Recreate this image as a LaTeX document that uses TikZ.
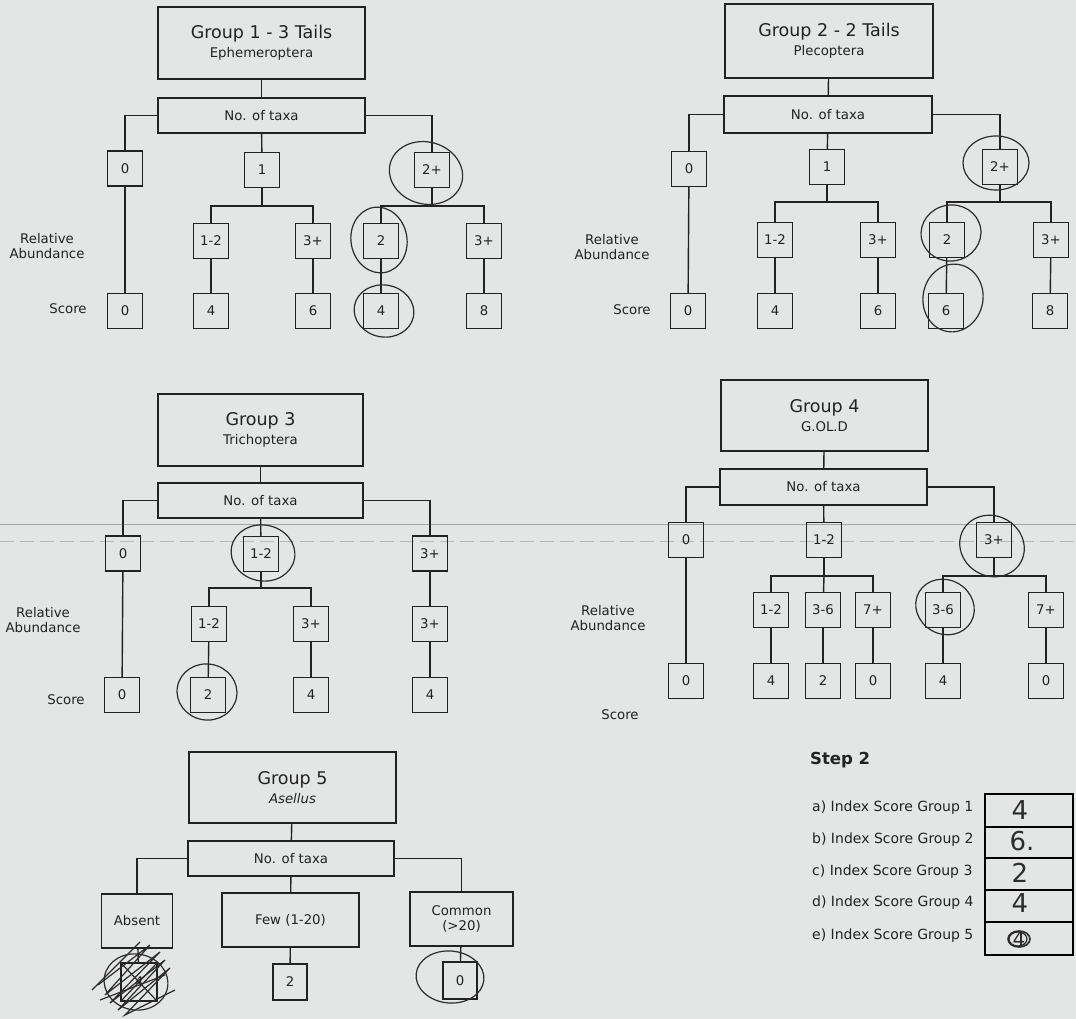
\documentclass[tikz,border=0pt]{standalone}
\usepackage{fontspec}
\setmainfont{DejaVu Sans}
\newcommand\smallfnt{\fontsize{13.3}{15.5}\selectfont}
\newcommand\titlefnt{\fontsize{17.5}{21}\selectfont}
\newcommand\stepfnt{\fontsize{14}{16}\selectfont}
\newcommand\handfnt{\fontsize{26}{26}\selectfont}
\definecolor{paper}{HTML}{E4E6E5}
\definecolor{ink}{HTML}{222222}
\definecolor{pencil}{HTML}{2C2C2C}
\begin{document}
\begin{tikzpicture}[x=1pt,y=-1pt,
  ln/.style={line width=1.4pt, draw=ink},
  bx/.style={draw=ink, line width=1.4pt, minimum width=35pt, minimum height=35pt, inner sep=0pt, text=ink, font=\smallfnt},
  ttl/.style={draw=ink, line width=1.4pt, minimum width=207pt, minimum height=72pt, inner sep=0pt, align=center, text=ink, font=\titlefnt},
  taxa/.style={draw=ink, line width=1.4pt, minimum width=207pt, minimum height=35pt, inner sep=0pt, text=ink, font=\smallfnt},
  lbl/.style={align=center, text=ink, font=\smallfnt, inner sep=0pt},
  pen/.style={draw=pencil, line width=1.2pt},
  cell/.style={draw=black, line width=2.6pt, minimum width=88pt, minimum height=30pt, inner sep=0pt},
  hand/.style={text=pencil, font=\handfnt, inner sep=0pt}
]
\useasboundingbox (0,0) rectangle (1076,1019);
\fill[paper] (0,0) rectangle (1076,1019);
% fold / print artefact lines
\draw[gray!70, line width=0.8pt] (0,524) -- (1076,524);
\draw[gray!55, line width=0.7pt, dash pattern=on 14pt off 6pt] (0,541) -- (1076,541);

% ================= Group 1 =================
\node[ttl] (t1) at (261.5,43) {Group 1 - 3 Tails\\[-2pt]{\smallfnt Ephemeroptera}};
\node[taxa] (x1) at (261.5,115.5) {No. of taxa};
\node[bx] (a0) at (125,168.5) {0};
\node[bx] (a1) at (262,170) {1};
\node[bx] (a2) at (432,170) {2+};
\node[bx] (b1) at (211,241) {1-2};
\node[bx] (b2) at (313,241) {3+};
\node[bx] (b3) at (381,241) {2};
\node[bx] (b4) at (484,241) {3+};
\node[bx] (s10) at (125,311) {0};
\node[bx] (s11) at (211,311) {4};
\node[bx] (s12) at (313,311) {6};
\node[bx] (s13) at (381,311) {4};
\node[bx] (s14) at (484,311) {8};
\coordinate (j11) at (262,206);
\coordinate (j12) at (432,206);
\draw[ln] (t1) -- (x1);
\draw[ln] (x1) -- (a1);
\draw[ln] (x1.west) -| (a0.north);
\draw[ln] (x1.east) -| (a2.north);
\draw[ln] (a0) -- (s10);
\draw[ln] (a1) -- (j11) -| (b1);
\draw[ln] (j11) -| (b2);
\draw[ln] (a2) -- (j12) -| (b3);
\draw[ln] (j12) -| (b4);
\draw[ln] (b1) -- (s11);
\draw[ln] (b2) -- (s12);
\draw[ln] (b3) -- (s13);
\draw[ln] (b4) -- (s14);
\node[lbl] (ra1) at (47,246) {Relative\\Abundance};
\node[lbl] (sc1) at (68,309) {Score};

% ================= Group 2 =================
\node[ttl, minimum width=208pt, minimum height=74pt] (t2) at (829,41) {Group 2 - 2 Tails\\[-2pt]{\smallfnt Plecoptera}};
\node[taxa, minimum width=208pt, minimum height=37pt] (x2) at (828,114.5) {No. of taxa};
\node[bx] (c0) at (689,169) {0};
\node[bx] (c1) at (827,167) {1};
\node[bx] (c2) at (1000,167) {2+};
\node[bx] (d1) at (775,240) {1-2};
\node[bx] (d2) at (878,240) {3+};
\node[bx] (d3) at (947,240) {2};
\node[bx] (d4) at (1051,240) {3+};
\node[bx] (s20) at (688,311) {0};
\node[bx] (s21) at (775,311) {4};
\node[bx] (s22) at (878,311) {6};
\node[bx] (s23) at (946,311) {6};
\node[bx] (s24) at (1050,311) {8};
\coordinate (j21) at (827,202);
\coordinate (j22) at (1000,202);
\draw[ln] (t2) -- (x2);
\draw[ln] (x2) -- (c1);
\draw[ln] (x2.west) -| (c0.north);
\draw[ln] (x2.east) -| (c2.north);
\draw[ln] (c0) -- (s20);
\draw[ln] (c1) -- (j21) -| (d1);
\draw[ln] (j21) -| (d2);
\draw[ln] (c2) -- (j22) -| (d3);
\draw[ln] (j22) -| (d4);
\draw[ln] (d1) -- (s21);
\draw[ln] (d2) -- (s22);
\draw[ln] (d3) -- (s23);
\draw[ln] (d4) -- (s24);
\node[lbl] (ra2) at (612,247) {Relative\\Abundance};
\node[lbl] (sc2) at (632,310) {Score};

% ================= Group 3 =================
\node[ttl, minimum width=205pt] (t3) at (260.5,430) {Group 3\\[-2pt]{\smallfnt Trichoptera}};
\node[taxa, minimum width=205pt] (x3) at (260.5,500.5) {No. of taxa};
\node[bx] (e0) at (123,553.5) {0};
\node[bx] (e1) at (261,554) {1-2};
\node[bx] (e2) at (430,553.5) {3+};
\node[bx] (f1) at (209,624) {1-2};
\node[bx] (f2) at (311,624) {3+};
\node[bx] (f3) at (430,624) {3+};
\node[bx] (s30) at (122,695) {0};
\node[bx] (s31) at (208,695) {2};
\node[bx] (s32) at (311,695) {4};
\node[bx] (s33) at (430,695) {4};
\coordinate (j31) at (261,588);
\draw[ln] (t3) -- (x3);
\draw[ln] (x3) -- (e1);
\draw[ln] (x3.west) -| (e0.north);
\draw[ln] (x3.east) -| (e2.north);
\draw[ln] (e0) -- (s30);
\draw[ln] (e1) -- (j31) -| (f1);
\draw[ln] (j31) -| (f2);
\draw[ln] (e2) -- (f3);
\draw[ln] (f1) -- (s31);
\draw[ln] (f2) -- (s32);
\draw[ln] (f3) -- (s33);
\node[lbl] (ra3) at (43,620) {Relative\\Abundance};
\node[lbl] (sc3) at (66,700) {Score};

% ================= Group 4 =================
\node[ttl, minimum height=71pt] (t4) at (824.5,415.5) {Group 4\\[-2pt]{\smallfnt G.OL.D}};
\node[taxa, minimum height=36pt] (x4) at (823.5,487) {No. of taxa};
\node[bx] (g0) at (686,540) {0};
\node[bx] (g1) at (824,540) {1-2};
\node[bx] (g2) at (994,540) {3+};
\node[bx] (h1) at (771,610) {1-2};
\node[bx] (h2) at (823,610) {3-6};
\node[bx] (h3) at (873,610) {7+};
\node[bx] (h4) at (943,610) {3-6};
\node[bx] (h5) at (1046,610) {7+};
\node[bx] (s40) at (686,681) {0};
\node[bx] (s41) at (771,681) {4};
\node[bx] (s42) at (823,681) {2};
\node[bx] (s43) at (873,681) {0};
\node[bx] (s44) at (943,681) {4};
\node[bx] (s45) at (1046,681) {0};
\coordinate (j41) at (824,576);
\coordinate (j42) at (994,576);
\draw[ln] (t4) -- (x4);
\draw[ln] (x4) -- (g1);
\draw[ln] (x4.west) -| (g0.north);
\draw[ln] (x4.east) -| (g2.north);
\draw[ln] (g0) -- (s40);
\draw[ln] (g1) -- (j41) -| (h1);
\draw[ln] (j41) -- (h2);
\draw[ln] (j41) -| (h3);
\draw[ln] (g2) -- (j42) -| (h4);
\draw[ln] (j42) -| (h5);
\draw[ln] (h1) -- (s41);
\draw[ln] (h2) -- (s42);
\draw[ln] (h3) -- (s43);
\draw[ln] (h4) -- (s44);
\draw[ln] (h5) -- (s45);
\node[lbl] (ra4) at (608,618) {Relative\\Abundance};
\node[lbl] (sc4) at (620,715) {Score};

% ================= Group 5 =================
\node[ttl, minimum height=71pt] (t5) at (292.5,787.5) {Group 5\\[-2pt]{\smallfnt\itshape Asellus}};
\node[taxa, minimum width=206pt] (x5) at (291,858.5) {No. of taxa};
\node[bx, minimum width=71pt, minimum height=54pt] (k0) at (137,921) {Absent};
\node[bx, minimum width=137pt, minimum height=54pt] (k1) at (290.5,920) {Few (1-20)};
\node[bx, minimum width=103pt, minimum height=54pt, align=center] (k2) at (461.5,919) {Common\\(>20)};
\node[bx, minimum width=36pt, minimum height=38pt] (s50) at (139,982) {4};
\node[bx, minimum width=34pt, minimum height=36pt] (s51) at (290,982) {2};
\node[bx, minimum width=34pt, minimum height=37pt] (s52) at (460,980.5) {0};
\draw[ln] (t5) -- (x5);
\draw[ln] (x5) -- (k1);
\draw[ln] (x5.west) -| (k0.north);
\draw[ln] (x5.east) -| (k2.north);
\draw[ln] (k0) -- (s50);
\draw[ln] (k1) -- (s51);
\draw[ln] (k2) -- (s52);

% ================= Step 2 =================
\node[anchor=west, text=ink, font=\fontsize{16.5}{18}\selectfont\bfseries, inner sep=0pt] (st) at (810,760) {Step 2};
\node[anchor=west, lbl] (la) at (812,808) {\stepfnt a) Index Score Group 1};
\node[anchor=west, lbl] (lb) at (812,840) {\stepfnt b) Index Score Group 2};
\node[anchor=west, lbl] (lc) at (812,872) {\stepfnt c) Index Score Group 3};
\node[anchor=west, lbl] (ld) at (812,903) {\stepfnt d) Index Score Group 4};
\node[anchor=west, lbl] (le) at (812,936) {\stepfnt e) Index Score Group 5};
\node[cell, minimum height=33pt] (ca) at (1029,810.5) {};
\node[cell, minimum height=31pt] (cb) at (1029,842.5) {};
\node[cell, minimum height=32pt] (cc) at (1029,874) {};
\node[cell, minimum height=32pt] (cd) at (1029,906) {};
\node[cell, minimum height=33pt] (ce) at (1029,938.5) {};
\node[hand] (ha) at (1020,810) {4};
\node[hand] (hb) at (1022,841) {6.};
\node[hand] (hc) at (1020,873) {2};
\node[hand] (hd) at (1020,903) {4};
\node[hand, font=\fontsize{20}{20}\selectfont] (he) at (1019,939) {4};
\draw[pencil, line width=1.6pt] (1019,939) ellipse [x radius=11, y radius=8];
\draw[pencil, line width=1.2pt] (1018,939) ellipse [x radius=9, y radius=7];

% ================= handwritten circles =================
\draw[pen, rotate around={-15:(426,173)}] (426,173) ellipse [x radius=37, y radius=31];
\draw[pen, rotate around={10:(379,240)}] (379,240) ellipse [x radius=28, y radius=33];
\draw[pen, rotate around={-10:(384,311)}] (384,311) ellipse [x radius=30, y radius=26];
\draw[pen] (996,163) ellipse [x radius=33, y radius=27];
\draw[pen, rotate around={10:(951,233)}] (951,233) ellipse [x radius=30, y radius=28];
\draw[pen, rotate around={-10:(953,298)}] (953,298) ellipse [x radius=30, y radius=34];
\draw[pen, rotate around={-10:(263,553)}] (263,553) ellipse [x radius=32, y radius=28];
\draw[pen, rotate around={-10:(207,692)}] (207,692) ellipse [x radius=30, y radius=28];
\draw[pen, rotate around={-30:(992,546)}] (992,546) ellipse [x radius=33, y radius=30];
\draw[pen, rotate around={-30:(945,607)}] (945,607) ellipse [x radius=30, y radius=27];
\draw[pen, rotate around={-5:(450,977)}] (450,977) ellipse [x radius=34, y radius=26];
% scribble over the "Absent" score
\draw[pen, rotate around={-10:(136,982)}] (136,982) ellipse [x radius=32, y radius=28];
\draw[pen] (121,963) -- (157,1001) (157,963) -- (121,1001);
\draw[pen, line width=1.2pt] (98,985) -- (150,945) -- (105,995) -- (160,952) -- (110,1003) -- (165,960) -- (118,1010) -- (170,968) -- (125,1015) -- (175,990);
\draw[pen] (92,990) -- (140,942) (100,1000) -- (165,975);
\end{tikzpicture}
\end{document}
